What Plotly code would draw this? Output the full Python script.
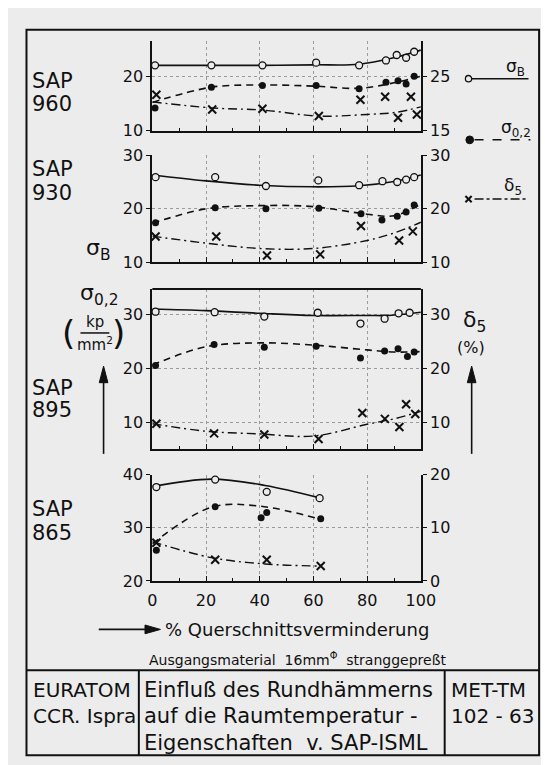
import plotly.graph_objects as go

W, H = 549, 765

# ---------------- data ----------------
# x = % Querschnittsverminderung
# SAP 960  (left axis sigma, right axis delta5)
p960_sB_x = [1, 22, 41, 61, 77, 87, 91, 94.5, 97.5]
p960_sB_y = [22.0, 22.0, 22.0, 22.5, 22.0, 22.9, 23.9, 23.4, 24.5]
p960_sB_fx = [0, 20, 40, 60, 77, 90, 100]
p960_sB_fy = [22.0, 22.0, 22.0, 22.1, 22.2, 23.4, 24.8]
p960_s02_x = [1, 22, 41, 61, 77, 87, 91.5, 94.5, 97.5]
p960_s02_y = [14.2, 18.0, 18.3, 18.3, 17.7, 18.9, 19.2, 18.6, 20.0]
p960_s02_fx = [0, 22, 41, 60, 77, 90, 100]
p960_s02_fy = [15.2, 18.0, 18.4, 18.2, 17.8, 18.8, 20.0]
p960_d5_x = [1.5, 22.3, 41, 62, 77.5, 86.7, 91.5, 96.3, 98.5]
p960_d5_y = [21.6, 18.9, 19.05, 17.7, 20.7, 21.25, 17.4, 21.25, 18.0]
p960_d5_fx = [0, 22, 41, 62, 80, 91, 100]
p960_d5_fy = [20.3, 19.2, 18.8, 17.7, 18.0, 18.4, 19.4]

# SAP 930
p930_sB_x = [1.2, 23.4, 42.3, 61.8, 77, 85.7, 91.2, 94.5, 97.5]
p930_sB_y = [25.9, 25.9, 24.25, 25.3, 24.4, 25.15, 25.0, 25.45, 25.9]
p930_sB_fx = [0, 20, 40, 60, 77, 90, 100]
p930_sB_fy = [26.3, 25.2, 24.4, 24.1, 24.3, 25.1, 26.3]
p930_s02_x = [1.2, 23.4, 42.3, 62, 77.7, 85.5, 91.2, 94.5, 97.5]
p930_s02_y = [17.4, 20.2, 20.0, 20.1, 19.1, 17.9, 18.6, 19.4, 20.7]
p930_s02_fx = [0, 20, 40, 60, 80, 90, 100]
p930_s02_fy = [17.3, 20.0, 20.6, 20.4, 19.0, 18.7, 20.9]
p930_d5_x = [1.2, 23.8, 42.7, 62.5, 77.7, 91.9, 97]
p930_d5_y = [14.85, 14.85, 11.3, 11.5, 16.8, 14.1, 15.8]
p930_d5_fx = [0, 20, 40, 60, 80, 90, 100]
p930_d5_fy = [14.9, 13.6, 12.6, 12.6, 14.1, 15.5, 17.5]

# SAP 895
p895_sB_x = [1.2, 23.2, 41.7, 61.6, 77.5, 86.5, 91.7, 95.8]
p895_sB_y = [30.5, 30.4, 29.6, 30.3, 28.3, 29.2, 30.2, 30.3]
p895_sB_fx = [0, 20, 40, 60, 80, 88, 100]
p895_sB_fy = [31.0, 30.7, 30.2, 29.8, 29.8, 29.8, 30.4]
p895_s02_x = [1.2, 23, 41.7, 61, 77.5, 86.5, 91.5, 95, 97.5]
p895_s02_y = [20.5, 24.4, 23.9, 24.1, 21.9, 23.2, 23.6, 22.2, 23.0]
p895_s02_fx = [0, 20, 40, 60, 80, 90, 100]
p895_s02_fy = [20.6, 24.0, 24.7, 24.3, 23.4, 23.0, 23.1]
p895_d5_x = [1.5, 23, 41.7, 61.9, 78.2, 86.6, 92, 94.5, 97.9]
p895_d5_y = [9.7, 7.9, 7.7, 6.85, 11.7, 10.6, 9.1, 13.3, 11.5]
p895_d5_fx = [0, 20, 40, 60, 80, 90, 100]
p895_d5_fy = [9.7, 8.3, 7.8, 7.4, 9.6, 10.6, 12.0]

# SAP 865
p865_sB_x = [1.5, 23.4, 42.6, 62.3]
p865_sB_y = [37.7, 39.1, 36.8, 35.6]
p865_sB_fx = [0, 22, 42, 62]
p865_sB_fy = [37.8, 39.2, 38.0, 35.7]
p865_s02_x = [1.5, 23.4, 40.5, 42.6, 62.7]
p865_s02_y = [25.8, 34.0, 31.9, 32.9, 31.7]
p865_s02_fx = [0, 22, 40, 62]
p865_s02_fy = [27.0, 33.9, 34.1, 31.7]
p865_d5_x = [1.5, 23.4, 42.6, 62.7]
p865_d5_y = [7.2, 4.0, 4.0, 2.8]
p865_d5_fx = [0, 22, 42, 62]
p865_d5_fy = [7.4, 4.4, 3.2, 2.8]

x_ticks = [0, 20, 40, 60, 80, 100]
panel_names = [("SAP", "960"), ("SAP", "930"), ("SAP", "895"), ("SAP", "865")]

# ---------------- styling / layout ----------------
BG = "#ececec"
INK = "#111111"
FONT = "DejaVu Sans"


def PX(p):
    return p / W


def PY(p):
    return 1 - p / H


XDOM = [PX(144.6), PX(423.3)]
panels = [
    dict(top=25, bot=116.7, lr=[10, 26.4], rr=[15, 31.4], rt0=5,
         sB=(p960_sB_x, p960_sB_y, p960_sB_fx, p960_sB_fy),
         s02=(p960_s02_x, p960_s02_y, p960_s02_fx, p960_s02_fy),
         d5=(p960_d5_x, p960_d5_y, p960_d5_fx, p960_d5_fy)),
    dict(top=141.7, bot=251.7, lr=[10, 30], rr=[10, 30], rt0=0,
         sB=(p930_sB_x, p930_sB_y, p930_sB_fx, p930_sB_fy),
         s02=(p930_s02_x, p930_s02_y, p930_s02_fx, p930_s02_fy),
         d5=(p930_d5_x, p930_d5_y, p930_d5_fx, p930_d5_fy)),
    dict(top=279, bot=443, lr=[5, 34.7], rr=[5, 34.7], rt0=0,
         sB=(p895_sB_x, p895_sB_y, p895_sB_fx, p895_sB_fy),
         s02=(p895_s02_x, p895_s02_y, p895_s02_fx, p895_s02_fy),
         d5=(p895_d5_x, p895_d5_y, p895_d5_fx, p895_d5_fy)),
    dict(top=469.5, bot=578.3, lr=[20, 40], rr=[0, 20], rt0=0,
         sB=(p865_sB_x, p865_sB_y, p865_sB_fx, p865_sB_fy),
         s02=(p865_s02_x, p865_s02_y, p865_s02_fx, p865_s02_fy),
         d5=(p865_d5_x, p865_d5_y, p865_d5_fx, p865_d5_fy)),
]

fig = go.Figure()
layout = dict(width=W, height=H, margin=dict(l=0, r=0, t=0, b=0),
              paper_bgcolor=BG, plot_bgcolor=BG, showlegend=False,
              font=dict(family=FONT, color=INK, size=15))

DASH = "7px,5px"
DASHDOT = "9px,4px,2px,4px"

for i, p in enumerate(panels):
    n = i + 1
    xa = "x" if n == 1 else f"x{n}"
    yl_n = 2 * n - 1
    yr_n = 2 * n
    yl = "y" if yl_n == 1 else f"y{yl_n}"
    yr = f"y{yr_n}"
    xkey = "xaxis" if n == 1 else f"xaxis{n}"
    ylkey = "yaxis" if yl_n == 1 else f"yaxis{yl_n}"
    yrkey = f"yaxis{yr_n}"
    ydom = [PY(p["bot"]), PY(p["top"])]

    layout[xkey] = dict(domain=XDOM, range=[0, 100], anchor=yl,
                        showline=True, linecolor=INK, linewidth=2,
                        ticks="inside", tickvals=x_ticks, ticklen=5,
                        tickcolor=INK, tickwidth=1,
                        minor=dict(ticks="inside", dtick=10, tick0=0,
                                   ticklen=3, tickcolor=INK, showgrid=False),
                        showgrid=True, gridcolor="#9a9a9a", griddash="dot",
                        gridwidth=1, zeroline=False,
                        showticklabels=(n == 4), ticklabelstandoff=4,
                        tickfont=dict(size=16, family=FONT, color=INK))
    layout[ylkey] = dict(domain=ydom, range=p["lr"], anchor=xa,
                         showline=True, linecolor=INK, linewidth=2,
                         ticks="outside", ticklen=4, tickcolor=INK,
                         dtick=10, tick0=0, showgrid=True,
                         gridcolor="#9a9a9a", griddash="dot", gridwidth=1,
                         zeroline=False,
                         tickfont=dict(size=16, family=FONT, color=INK))
    layout[yrkey] = dict(domain=ydom, range=p["rr"], anchor=xa,
                         overlaying=yl, side="right",
                         showline=True, linecolor=INK, linewidth=2,
                         ticks="outside", ticklen=4, tickcolor=INK,
                         dtick=10, tick0=p["rt0"], showgrid=False,
                         zeroline=False,
                         tickfont=dict(size=16, family=FONT, color=INK))

    # fitted curves
    sx, sy, fx, fy = p["sB"]
    fig.add_trace(go.Scatter(x=fx, y=fy, mode="lines", xaxis=xa, yaxis=yl,
                             line=dict(color=INK, width=1.6, shape="spline"),
                             hoverinfo="skip"))
    fig.add_trace(go.Scatter(x=sx, y=sy, mode="markers", xaxis=xa, yaxis=yl,
                             cliponaxis=False,
                             marker=dict(symbol="circle", size=7, color=BG,
                                         line=dict(color=INK, width=1.3))))
    sx, sy, fx, fy = p["s02"]
    fig.add_trace(go.Scatter(x=fx, y=fy, mode="lines", xaxis=xa, yaxis=yl,
                             line=dict(color=INK, width=1.6, dash=DASH,
                                       shape="spline"),
                             hoverinfo="skip"))
    fig.add_trace(go.Scatter(x=sx, y=sy, mode="markers", xaxis=xa, yaxis=yl,
                             cliponaxis=False,
                             marker=dict(symbol="circle", size=7, color=INK)))
    sx, sy, fx, fy = p["d5"]
    fig.add_trace(go.Scatter(x=fx, y=fy, mode="lines", xaxis=xa, yaxis=yr,
                             line=dict(color=INK, width=1.4, dash=DASHDOT,
                                       shape="spline"),
                             hoverinfo="skip"))
    fig.add_trace(go.Scatter(x=sx, y=sy, mode="markers", xaxis=xa, yaxis=yr,
                             cliponaxis=False,
                             marker=dict(symbol="x-thin-open", size=8,
                                         color=INK,
                                         line=dict(color=INK, width=2))))

fig.update_layout(**layout)

# ---------------- shapes ----------------
shapes = []


def line(x0, y0, x1, y1, w=2, dash=None, color=INK):
    d = dict(type="line", xref="paper", yref="paper",
             x0=PX(x0), y0=PY(y0), x1=PX(x1), y1=PY(y1),
             line=dict(color=color, width=w))
    if dash:
        d["line"]["dash"] = dash
    shapes.append(d)


def tri(pts):
    path = "M " + " L ".join(f"{PX(a):.5f},{PY(b):.5f}" for a, b in pts) + " Z"
    shapes.append(dict(type="path", xref="paper", yref="paper", path=path,
                       fillcolor=INK, line=dict(color=INK, width=1)))


# outer frame and title block
shapes.append(dict(type="rect", xref="paper", yref="paper",
                   x0=PX(14), y0=PY(757), x1=PX(546), y1=PY(13),
                   line=dict(color=INK, width=2)))
line(14, 670, 546, 670)
line(130.6, 670, 130.6, 757)
line(448, 670, 448, 757)
# top border of SAP 895 panel
line(144.6, 279, 423.3, 279)
# fraction bar kp/mm2
line(70, 324, 100, 324, w=1.5)

# arrows (left / right vertical, bottom horizontal)
line(94, 448, 94, 372, w=1.6)
tri([(94, 358), (89.5, 375), (98.5, 375)])
line(476, 448, 476, 372, w=1.6)
tri([(476, 358), (471.5, 375), (480.5, 375)])
line(89, 628, 140, 628, w=1.6)
tri([(153, 628), (137, 623.5), (137, 632.5)])

# legend glyphs (right side)
shapes.append(dict(type="circle", xref="paper", yref="paper",
                   x0=PX(469.5), x1=PX(476), y0=PY(66.5), y1=PY(60),
                   line=dict(color=INK, width=1.3), fillcolor=BG))
line(476, 63.3, 535, 63.3, w=1.5)
shapes.append(dict(type="circle", xref="paper", yref="paper",
                   x0=PX(470), x1=PX(478), y0=PY(130), y1=PY(122),
                   line=dict(color=INK, width=1), fillcolor=INK))
line(479, 126, 537, 126, w=1.5, dash="dash")
line(469.5, 183.5, 476, 190, w=2)
line(469.5, 190, 476, 183.5, w=2)
line(479, 186.7, 533, 186.7, w=1.5, dash="dashdot")

fig.update_layout(shapes=shapes)

# ---------------- annotations ----------------
anns = []


def txt(t, x, y, size, xanchor="left", yanchor="middle"):
    anns.append(dict(text=t, x=PX(x), y=PY(y), xref="paper", yref="paper",
                     xanchor=xanchor, yanchor=yanchor, showarrow=False,
                     font=dict(family=FONT, size=size, color=INK)))


name_y = [(66, 89), (155.5, 180.5), (380, 403.5), (505, 529)]
for (a, b), (ya, yb) in zip(panel_names, name_y):
    txt(a, 18, ya, 21)
    txt(b, 18, yb, 21)

# left axis label
txt("σ<sub>B</sub>", 89, 238, 22, xanchor="center")
txt("σ<sub>0,2</sub>", 89, 285, 22, xanchor="center")
txt("kp", 85, 313, 15, xanchor="center")
txt("mm<sup>2</sup>", 85, 335, 15, xanchor="center")
txt("(", 58, 324, 34, xanchor="center")
txt(")", 110, 324, 34, xanchor="center")

# right axis label
txt("δ<sub>5</sub>", 479, 312, 22, xanchor="center")
txt("(%)", 475, 339, 16, xanchor="center")

# legend labels
txt("σ<sub>B</sub>", 522, 52, 17, xanchor="center")
txt("σ<sub>0,2</sub>", 522, 114, 17, xanchor="center")
txt("δ<sub>5</sub>", 519, 174, 17, xanchor="center")

# x-axis title
txt("% Querschnittsverminderung", 156, 628, 18)
txt("Ausgangsmaterial  16mm<sup>Φ</sup>  stranggepreßt", 295, 658, 14,
    xanchor="center")

# title block
txt("EURATOM", 19, 690, 20)
txt("CCR. Ispra", 19, 717, 20)
txt("Einfluß des Rundhämmerns", 134, 690, 21)
txt("auf die Raumtemperatur -", 134, 717, 21)
txt("Eigenschaften  v. SAP-ISML", 134, 744, 21)
txt("MET-TM", 452, 690, 20)
txt("102 - 63", 452, 717, 20)

fig.update_layout(annotations=anns)

fig.write_html("out.html")
